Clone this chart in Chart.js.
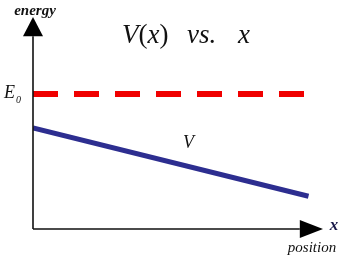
<!DOCTYPE html>
<html>
<head>
<meta charset="utf-8">
<script src="https://cdn.jsdelivr.net/npm/chart.js@4"></script>
<style>
  html, body { margin: 0; padding: 0; background: #fff; }
  #wrap { width: 346px; height: 260px; }
</style>
</head>
<body>
<div id="wrap"><canvas id="vChart"></canvas></div>
<script>
// values (axis units 0..10 on x, 0..11 on y)
const xLimits = [0, 10];
const yLimits = [0, 11];
const e0X = [0, 9.4];
const e0Y = [7, 7];
const vX = [0, 9.5];
const vY = [5.25, 1.7];
const xAxisEnd = 9.2;   // where the x arrowhead starts
const yAxisEnd = 10;    // where the y arrowhead starts

const serif = '"Liberation Serif", "DejaVu Serif", serif';

// write a run of [text, italic] pieces one after another
function drawPieces(ctx, pieces, x, y, size) {
    pieces.forEach(([txt, italic]) => {
        ctx.font = (italic ? 'italic ' : '') + size + 'px ' + serif;
        ctx.fillText(txt, x, y);
        x += ctx.measureText(txt).width;
    });
}

// draws both axes with arrowheads and all the labels
const sketchPlugin = {
    id: 'sketch',
    afterDatasetsDraw(chart) {
        const {ctx, scales: {x, y}} = chart;
        const x0 = x.getPixelForValue(0);
        const y0 = y.getPixelForValue(0);
        const xEnd = x.getPixelForValue(xAxisEnd);
        const xTip = x.getPixelForValue(xLimits[1]);
        const yEnd = y.getPixelForValue(yAxisEnd);
        const yTip = y.getPixelForValue(yLimits[1]);

        ctx.save();
        ctx.strokeStyle = '#111';
        ctx.lineWidth = 1.6;
        ctx.beginPath();
        ctx.moveTo(x0, y0);
        ctx.lineTo(xEnd, y0);
        ctx.moveTo(x0, y0);
        ctx.lineTo(x0, yEnd);
        ctx.stroke();

        ctx.fillStyle = '#000';
        ctx.beginPath();
        ctx.moveTo(xTip, y0);
        ctx.lineTo(xEnd, y0 - 9);
        ctx.lineTo(xEnd, y0 + 9);
        ctx.closePath();
        ctx.fill();
        ctx.beginPath();
        ctx.moveTo(x0, yTip);
        ctx.lineTo(x0 - 10, yEnd);
        ctx.lineTo(x0 + 10, yEnd);
        ctx.closePath();
        ctx.fill();

        // labels
        ctx.textBaseline = 'alphabetic';
        ctx.textAlign = 'center';
        ctx.fillStyle = '#111';
        ctx.font = 'italic bold 15px ' + serif;
        ctx.fillText('energy', 35, 15);
        ctx.font = 'italic 15px ' + serif;
        ctx.fillText('position', 312, 252);
        ctx.font = 'italic bold 17px ' + serif;
        ctx.fillStyle = '#1a1a4a';
        ctx.fillText('x', 334, 230);

        ctx.fillStyle = '#111';
        ctx.textAlign = 'left';
        ctx.font = 'italic 18px ' + serif;
        ctx.fillText('E', 4, 98);
        ctx.font = 'italic 10px ' + serif;
        ctx.fillText('0', 16, 103);
        ctx.font = 'italic 18px ' + serif;
        ctx.fillText('V', 183, 148);

        drawPieces(ctx, [['V', true], ['(', false], ['x', true], [')', false]], 122, 43, 27);
        drawPieces(ctx, [['vs.', true]], 187, 43, 27);
        drawPieces(ctx, [['x', true]], 238, 43, 27);
        ctx.restore();
    }
};

new Chart(document.getElementById('vChart'), {
    type: 'line',
    data: {
        datasets: [
            {
                label: 'E0',
                data: e0X.map((v, i) => ({x: v, y: e0Y[i]})),
                borderColor: '#f00000',
                borderWidth: 6,
                borderDash: [25, 16],
                borderCapStyle: 'butt',
                pointRadius: 0
            },
            {
                label: 'V',
                data: vX.map((v, i) => ({x: v, y: vY[i]})),
                borderColor: '#2d2e90',
                borderWidth: 5,
                borderCapStyle: 'butt',
                pointRadius: 0
            }
        ]
    },
    options: {
        responsive: true,
        maintainAspectRatio: false,
        animation: false,
        layout: { padding: { left: 33, right: 23, top: 17, bottom: 31 } },
        scales: {
            x: { type: 'linear', min: xLimits[0], max: xLimits[1], display: false },
            y: { type: 'linear', min: yLimits[0], max: yLimits[1], display: false }
        },
        plugins: {
            legend: { display: false },
            tooltip: { enabled: false }
        }
    },
    plugins: [sketchPlugin]
});
</script>
</body>
</html>
